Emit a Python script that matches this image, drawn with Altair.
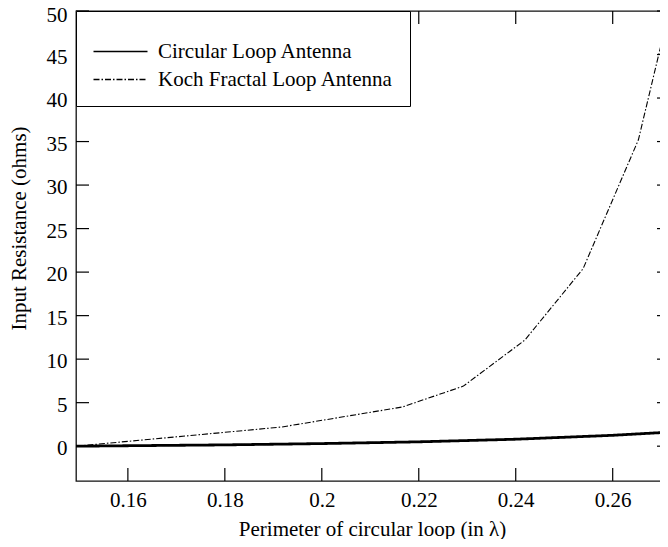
import altair as alt
import pandas as pd

# Data
circ_x = [0.1493, 0.18, 0.20, 0.22, 0.24, 0.26, 0.2713]
circ_y = [0.0, 0.15, 0.3, 0.5, 0.8, 1.25, 1.6]
koch_x = [0.1493, 0.1917, 0.2166, 0.2292, 0.2419, 0.2539, 0.2653, 0.2713]
koch_y = [0.0, 2.2, 4.5, 6.9, 12.2, 20.4, 35.2, 49.2]
series_names = ["Circular Loop Antenna", "Koch Fractal Loop Antenna"]
x_ticks = [0.16, 0.18, 0.20, 0.22, 0.24, 0.26]
y_ticks = [0, 5, 10, 15, 20, 25, 30, 35, 40, 45, 50]

W, H = 594, 470
TICK = 13
FONT = "'Liberation Serif', 'Times New Roman', Times, serif"
FS = 21

df = pd.DataFrame(
    {"x": circ_x + koch_x,
     "y": circ_y + koch_y,
     "series": [series_names[0]] * len(circ_x) + [series_names[1]] * len(koch_x),
     "order": list(range(len(circ_x))) + list(range(len(koch_x)))}
)
xt = pd.DataFrame({"x": x_ticks})
yt = pd.DataFrame({"y": y_ticks})

xscale = alt.Scale(domain=[0.1493, 0.27182], nice=False, zero=False)
yscale = alt.Scale(domain=[-4, 50], nice=False, zero=False)
xaxis = alt.Axis(title="Perimeter of circular loop (in λ)", values=x_ticks,
                 format="~g", labelPadding=8,
                 titleX=296, titleY=54, titleAlign="center", titleBaseline="alphabetic")
yaxis = alt.Axis(title="Input Resistance (ohms)", values=y_ticks,
                 labelPadding=9,
                 labelOffset=alt.condition("datum.value == 50", alt.value(4.5), alt.value(2.5)),
                 labelFlush=False,
                 titleX=-56.5, titleY=217,
                 titleAlign="center", titleBaseline="middle", titleAngle=270)

dash_scale = alt.Scale(domain=series_names, range=[[1, 0], [6, 2, 1.5, 2]])
legend = alt.Legend(title=" ", orient="none", legendX=0, legendY=0,
                    strokeColor="black", fillColor="white", padding=16,
                    titleFontSize=12, titlePadding=2,
                    labelFont=FONT, labelFontSize=FS, labelColor="black",
                    symbolType="M-3,0H3", symbolSize=324, symbolStrokeWidth=1.3,
                    symbolStrokeColor="black", symbolOffset=18,
                    labelOffset=27, rowPadding=6, labelLimit=400)

base = alt.Chart(df).encode(
    x=alt.X("x:Q", scale=xscale, axis=xaxis),
    y=alt.Y("y:Q", scale=yscale, axis=yaxis),
    strokeDash=alt.StrokeDash("series:N", scale=dash_scale, legend=legend),
    order="order:Q",
)
circ_line = base.transform_filter(alt.datum.series == series_names[0]).mark_line(
    color="black", strokeWidth=2.8, clip=True)
koch_line = base.transform_filter(alt.datum.series == series_names[1]).mark_line(
    color="black", strokeWidth=1.1, clip=True)

tick_style = dict(color="black", strokeWidth=1.2)
left_ticks = alt.Chart(yt).mark_rule(**tick_style).encode(
    y=alt.Y("y:Q", scale=yscale, axis=yaxis), x=alt.value(0), x2=alt.value(TICK))
right_ticks = alt.Chart(yt).mark_rule(**tick_style).encode(
    y=alt.Y("y:Q", scale=yscale, axis=yaxis), x=alt.value(W - TICK), x2=alt.value(W))
bottom_ticks = alt.Chart(xt).mark_rule(**tick_style).encode(
    x=alt.X("x:Q", scale=xscale, axis=xaxis), y=alt.value(H - TICK), y2=alt.value(H))
top_ticks = alt.Chart(xt).mark_rule(**tick_style).encode(
    x=alt.X("x:Q", scale=xscale, axis=xaxis), y=alt.value(0), y2=alt.value(TICK))

chart = alt.layer(circ_line, koch_line, left_ticks, right_ticks, bottom_ticks, top_ticks).properties(
    width=W, height=H,
    autosize=alt.AutoSizeParams(type="none"),
    padding={"left": 68, "top": 3, "right": -10, "bottom": 58},
    background="white",
).configure_view(
    stroke="#111", strokeWidth=1.3
).configure_axis(
    domain=False, ticks=False, grid=False,
    labelFont=FONT, labelFontSize=FS, labelColor="black",
    titleFont=FONT, titleFontSize=FS, titleColor="black", titleFontWeight="normal",
)

chart.save("out.html", embed_options={"renderer": "svg", "actions": False})
